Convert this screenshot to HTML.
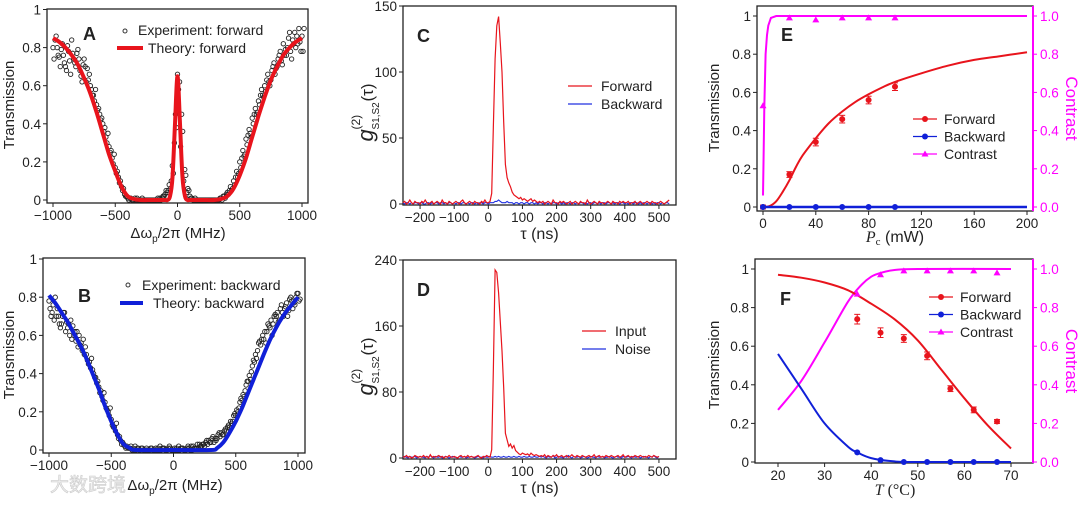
<!DOCTYPE html>
<html><head><meta charset="utf-8">
<style>
html,body{margin:0;padding:0;background:#fff;}
svg{display:block;font-family:"Liberation Sans","Noto Sans CJK SC",sans-serif;}
</style></head>
<body>
<svg id="fig" width="1080" height="506" viewBox="0 0 1080 506" xmlns="http://www.w3.org/2000/svg"></svg>
<script>
// ---------- Panel A data ----------
const thA_x=[-1000,-950,-900,-850,-800,-750,-700,-650,-600,-550,-500,-450,-400,-350,-300,-200,-100,-80,-60,-40,-20,0,20,40,60,80,100,200,300,350,400,450,500,550,600,650,700,750,800,850,900,950,1000];
const thA_y=[0.85,0.83,0.80,0.76,0.71,0.64,0.56,0.46,0.35,0.24,0.15,0.07,0.02,0.005,0,0,0,0,0.02,0.12,0.40,0.65,0.40,0.12,0.02,0,0,0,0,0.005,0.02,0.06,0.13,0.22,0.33,0.44,0.54,0.63,0.70,0.76,0.80,0.83,0.85];
const expA=[0.80,0.86,0.75,0.82,0.70,0.78,0.84,0.72,0.79,0.65,0.74,0.69,0.60,
0.55,0.50,0.45,0.40,0.33,0.28,0.22,0.17,0.12,0.07,0.03,0.01,
0.01,0.0,0.01,0.0,0.0,0.0,0.0,0.0,0.0,0.0,0.01,0.03,
0.05,0.10,0.30,0.66,0.28,0.10,0.04,
0.02,0.0,0.0,0.0,0.0,0.0,0.0,0.0,0.0,0.0,0.01,0.02,
0.04,0.07,0.10,0.15,0.20,0.26,0.32,0.37,0.43,0.48,0.52,0.58,
0.60,0.66,0.63,0.72,0.70,0.78,0.82,0.76,0.88,0.84,0.80,0.90,0.86];
const expA2=[0.74,0.80,0.70,0.76,0.68,0.73,0.77,0.70,0.74,0.62,0.70,0.63,0.58,
0.52,0.47,0.42,0.36,0.30,0.25,0.19,0.14,0.09,0.05,0.02,0.0,
0.0,0.01,0.0,0.0,0.0,0.0,0.0,0.0,0.0,0.01,0.02,0.05,
0.08,0.18,0.45,0.58,0.45,0.16,0.06,
0.01,0.0,0.0,0.0,0.0,0.0,0.0,0.0,0.0,0.0,0.0,0.01,
0.03,0.05,0.08,0.12,0.17,0.23,0.29,0.35,0.40,0.45,0.50,0.55,
0.57,0.62,0.68,0.66,0.74,0.73,0.76,0.80,0.78,0.82,0.86,0.83,0.78];
const expA3=[0.84,0.76,0.79,0.72,0.81,0.66,0.74,0.77,0.68,0.71,0.62,0.66,0.55,
0.58,0.48,0.43,0.38,0.35,0.26,0.24,0.15,0.10,0.06,0.02,0.01,
0.0,0.0,0.0,0.01,0.0,0.0,0.0,0.0,0.01,0.0,0.02,0.04,
0.06,0.14,0.38,0.62,0.36,0.13,0.05,
0.01,0.01,0.0,0.0,0.0,0.0,0.0,0.0,0.0,0.01,0.02,0.03,
0.05,0.06,0.12,0.14,0.22,0.24,0.34,0.33,0.45,0.46,0.55,0.54,
0.63,0.60,0.70,0.69,0.76,0.71,0.79,0.85,0.74,0.88,0.82,0.78,0.90];
const ticksA_x=[-1000,-500,0,500,1000];
const ticksA_y=[0,0.2,0.4,0.6,0.8,1];
// ---------- Panel B data ----------
const thB_x=[-1000,-950,-900,-850,-800,-750,-700,-650,-600,-550,-500,-450,-400,-350,-300,0,300,350,400,450,500,550,600,650,700,750,800,850,900,950,1000];
const thB_y=[0.81,0.77,0.72,0.67,0.61,0.55,0.48,0.40,0.32,0.23,0.15,0.08,0.03,0.01,0,0,0,0.01,0.04,0.09,0.15,0.22,0.30,0.38,0.46,0.54,0.61,0.67,0.72,0.76,0.80];
const expB=[0.78,0.72,0.80,0.70,0.66,0.72,0.64,0.68,0.60,0.62,0.55,0.58,0.50,
0.46,0.42,0.38,0.33,0.28,0.25,0.20,0.16,0.12,0.08,0.05,0.03,
0.02,0.01,0.01,0,0,0.01,0,0,0.01,0,0.01,0,
0.01,0,0.01,0,0.01,0,0.01,
0,0.01,0,0.01,0.01,0.02,0.02,0.03,0.04,0.04,0.06,0.07,
0.08,0.10,0.12,0.15,0.18,0.22,0.26,0.31,0.36,0.41,0.46,0.52,
0.55,0.58,0.62,0.64,0.66,0.70,0.68,0.72,0.75,0.73,0.78,0.76,0.82];
const expB2=[0.74,0.76,0.70,0.66,0.70,0.62,0.66,0.58,0.62,0.54,0.56,0.50,0.47,
0.43,0.40,0.35,0.30,0.26,0.22,0.18,0.13,0.10,0.06,0.03,0.02,
0.01,0.02,0,0.01,0,0,0.01,0,0,0.01,0,0.01,
0,0.01,0,0.01,0,0.01,0,
0.01,0,0.02,0.01,0.03,0.03,0.04,0.05,0.06,0.06,0.08,0.09,
0.10,0.12,0.15,0.18,0.21,0.25,0.29,0.34,0.39,0.44,0.50,0.56,
0.58,0.62,0.66,0.68,0.70,0.72,0.74,0.70,0.77,0.79,0.74,0.80,0.78];
const expB3=[0.70,0.68,0.74,0.64,0.72,0.67,0.60,0.65,0.57,0.60,0.52,0.54,0.45,
0.48,0.38,0.36,0.31,0.30,0.21,0.22,0.12,0.14,0.07,0.04,0.01,
0.01,0,0.02,0.01,0.01,0,0,0.01,0,0,0.02,0.01,
0,0.02,0,0,0.02,0.01,0,
0.02,0.02,0.01,0.03,0.02,0.03,0.05,0.04,0.07,0.05,0.09,0.08,
0.11,0.13,0.14,0.19,0.20,0.27,0.28,0.36,0.37,0.47,0.48,0.57,
0.60,0.56,0.65,0.60,0.71,0.67,0.76,0.74,0.70,0.80,0.77,0.82,0.79];
const ticksB_x=[-1000,-500,0,500,1000];
const ticksB_y=[0,0.2,0.4,0.6,0.8,1];
// ---------- Panel C data (tau from -250 step 5) ----------
const fwdC=[1,2,0,1,3,1,0,2,1,1,0,2,1,3,1,0,1,2,0,1,2,1,0,3,1,1,0,2,1,0,1,2,1,0,2,3,1,0,1,2,1,0,2,1,1,0,2,1,3,1,1,2,
8,60,110,135,142,122,100,62,30,20,16,13,9,7,6,5,4,5,3,4,3,2,3,4,2,3,2,1,2,
1,2,0,1,2,1,0,3,1,1,0,2,1,2,1,0,1,2,0,1,2,1,0,2,1,1,0,3,1,0,1,2,1,0,2,1,1,0,1,2,1,0,2,1,1,0,2,1,2,1,1,2,0,1,1,2,0,1,2,1,0,1,2,1,0,2,1,1,0,1,2,1,0,1,2,3];
const bwdC=[1,0,1,1,0,1,0,1,1,0,1,1,0,0,1,1,0,1,0,1,1,0,1,1,0,1,0,1,1,0,1,0,1,1,0,1,1,0,1,0,1,1,0,1,0,1,1,0,1,1,0,1,
1,1,2,2,3,2,1,1,1,2,1,1,1,0,1,1,0,1,1,0,1,1,0,1,1,0,1,0,1,
1,0,1,1,0,1,0,1,1,0,1,1,0,1,0,1,1,0,1,1,0,1,0,1,1,0,1,0,1,1,0,1,1,0,1,0,1,1,0,1,1,0,1,0,1,1,0,1,1,0,1,0,1,1,0,1,1,0,1,0,1,1,0,1,1,0,1,0,1,1,0,1,0,1,1,0,1,0,1,1];
const ticksC_x=[-200,-100,0,100,200,300,400,500];
const ticksC_y=[0,50,100,150];
// ---------- Panel D data ----------
const fwdD=[2,1,3,1,2,0,1,3,2,1,2,1,3,1,2,0,4,1,2,1,2,3,1,2,0,2,1,3,1,1,2,1,0,2,3,1,2,1,3,1,2,1,1,2,3,1,0,2,1,3,2,1,
10,110,228,225,200,165,130,85,30,22,14,17,12,15,9,7,5,4,6,5,4,5,3,6,4,3,4,3,2,
3,2,4,1,3,2,1,3,2,4,1,2,3,1,2,3,1,2,4,2,1,3,2,1,3,2,1,2,3,1,2,4,1,2,3,1,2,1,3,2,1,3,2,1,2,3,1,2,4,1,2,3,1,2,1,3,2,1,3,2,1,2,1,3,2,1,3,2,1,2];
const bwdD=[1,2,1,0,2,1,1,2,0,1,2,1,1,0,2,1,3,1,0,2,1,1,2,0,1,2,1,0,1,2,1,1,0,2,1,1,2,0,1,1,2,1,0,1,2,1,1,0,2,1,1,2,
1,1,2,1,2,1,1,2,1,1,2,1,1,2,1,1,2,1,1,2,1,1,2,1,1,2,1,1,2,
1,2,1,0,2,1,1,3,0,1,2,1,1,0,2,1,3,1,0,2,1,1,2,0,1,2,1,0,1,2,1,1,0,2,1,1,2,0,1,1,2,1,0,1,2,1,1,0,2,1,1,2,1,0,2,1,1,2,0,1,2,1,1,0,2,1,3,1,0,2,1,1,2,0,1,2,1,0,1,2];
const ticksD_x=[-200,-100,0,100,200,300,400,500];
const ticksD_y=[0,80,160,240];
// ---------- Panel E data ----------
const thE_x=[0,5,10,15,20,25,30,40,50,60,70,80,90,100,120,140,160,180,200];
const thE_fwd=[0,0.005,0.03,0.08,0.14,0.21,0.27,0.36,0.44,0.50,0.55,0.59,0.625,0.655,0.70,0.74,0.77,0.79,0.81];
const ptE_x=[0,20,40,60,80,100];
const ptE_fwd=[0,0.17,0.34,0.46,0.56,0.63];
const ptE_err=[0.01,0.015,0.02,0.02,0.02,0.02];
const ptE_bwd=[0,0,0,0,0,0];
const ptE_con=[0.53,0.99,0.98,0.99,0.99,0.99];
const conE_x=[0,0.5,1,2,3,4,6,10,200];
const conE_y=[0.06,0.3,0.52,0.8,0.9,0.95,0.99,1,1];
const ticksE_x=[0,40,80,120,160,200];
const ticksE_y=[0,0.2,0.4,0.6,0.8,1];
const ticksE_r=["0.0","0.2","0.4","0.6","0.8","1.0"];
// ---------- Panel F data ----------
const thF_x=[20,25,30,35,40,45,50,55,60,65,70];
const thF_fwd=[0.97,0.955,0.93,0.89,0.82,0.74,0.63,0.48,0.33,0.19,0.07];
const thFb_x=[20,25,30,35,37,40,45,50,70];
const thFb_y=[0.56,0.38,0.20,0.08,0.05,0.02,0.003,0,0];
const conF_x=[20,25,30,35,38,40,42,45,50,70];
const conF_y=[0.27,0.42,0.62,0.83,0.92,0.96,0.98,0.995,1,1];
const ptF_x=[37,42,47,52,57,62,67];
const ptF_fwd=[0.74,0.67,0.64,0.55,0.38,0.27,0.21];
const ptF_err=[0.025,0.025,0.02,0.02,0.015,0.015,0.01];
const ptF_bwd=[0.05,0.01,0,0,0,0,0];
const ptF_con=[0.87,0.97,0.99,0.99,0.99,0.99,0.98];
const ticksF_x=[20,30,40,50,60,70];
const ticksF_y=[0,0.2,0.4,0.6,0.8,1];
const ticksF_r=["0.0","0.2","0.4","0.6","0.8","1.0"];

const NS="http://www.w3.org/2000/svg";
const svg=document.getElementById('fig');
function el(tag,attrs,parent,txt){const e=document.createElementNS(NS,tag);for(const k in attrs)e.setAttribute(k,attrs[k]);if(txt!==undefined)e.textContent=txt;(parent||svg).appendChild(e);return e;}
function scale(d0,d1,p0,p1){return v=>p0+(v-d0)*(p1-p0)/(d1-d0);}
function fmt(v){return String(v).replace('-','\u2212');}
function smoothD(xs,ys,sx,sy){
 const P=xs.map((x,i)=>[sx(x),sy(ys[i])]);
 let d='M'+P[0][0].toFixed(1)+','+P[0][1].toFixed(1);
 for(let i=0;i<P.length-1;i++){const p0=P[Math.max(0,i-1)],p1=P[i],p2=P[i+1],p3=P[Math.min(P.length-1,i+2)];
  const c1=[p1[0]+(p2[0]-p0[0])/6,p1[1]+(p2[1]-p0[1])/6],c2=[p2[0]-(p3[0]-p1[0])/6,p2[1]-(p3[1]-p1[1])/6];
  d+='C'+c1.map(v=>v.toFixed(1)).join(',')+' '+c2.map(v=>v.toFixed(1)).join(',')+' '+p2[0].toFixed(1)+','+p2[1].toFixed(1);}
 return d;}
function pathD(xs,ys,sx,sy){return xs.map((x,i)=>(i?'L':'M')+sx(x).toFixed(1)+','+sy(ys[i]).toFixed(1)).join('');}

function frame(g,box,sx,sy,xt,yt){
  const r=el('rect',{x:box.l,y:box.t,width:box.r-box.l,height:box.b-box.t,fill:'none',stroke:'#222','stroke-width':1.3},g);
  
  
  xt.forEach(v=>{const x=sx(v);
    el('line',{x1:x,x2:x,y1:box.b,y2:box.b+4,stroke:'#222','stroke-width':1},g);
    const t=el('text',{x:x,y:box.b+17,'text-anchor':'middle','font-size':13.5,fill:'#222'},g,fmt(v));
    
    });
  yt.forEach(v=>{const y=sy(v);
    el('line',{x1:box.l-4,x2:box.l,y1:y,y2:y,stroke:'#222','stroke-width':1},g);
    const t=el('text',{x:box.l-6,y:y+5,'text-anchor':'end','font-size':13.5,fill:'#222'},g,fmt(v));
    
    });
}
function group(name){const g=el('g',{});return g;}
function label(g,txt,x,y,name,extra){const t=el('text',Object.assign({x:x,y:y,'font-size':13,fill:'#222'},extra||{}),g,txt);return t;}
function scatter(g,arrs,sx,sy){
 arrs.forEach((arr,k)=>arr.forEach((v,i)=>{const c=el('circle',{cx:sx(-1000+i*25+k*8.33),cy:sy(v),r:2.2,fill:'none',stroke:'#222','stroke-width':0.9},g);
  }));
}

// ===== Panel A =====
(function(){
 const g=group('panel-a');
 const box={l:47,r:308,t:9,b:203};
 const sx=scale(-1000,1000,53,302), sy=scale(0,1,200,9.5);
 frame(g,box,sx,sy,ticksA_x,ticksA_y);
 scatter(g,[expA,expA2,expA3],sx,sy);
 const p=el('path',{d:smoothD(thA_x,thA_y,sx,sy),fill:'none',stroke:'#e8141c','stroke-width':4,'stroke-linejoin':'round'},g);
 
 label(g,'A',83,40,'panel-label',{'font-size':18,'font-weight':'bold'});
 el('circle',{cx:125,cy:31,r:2,fill:'none',stroke:'#333'},g);
 label(g,'Experiment: forward',138,35,'legend-experiment',{'font-size':14});
 el('line',{x1:117,x2:143,y1:48,y2:48,stroke:'#e8141c','stroke-width':4},g);
 label(g,'Theory: forward',148,53,'legend-theory',{'font-size':14});
 label(g,'Transmission',0,0,'y-axis-title',{transform:'translate(14,105) rotate(-90)','text-anchor':'middle','font-size':15});
 const xt=el('text',{x:178,y:238,'text-anchor':'middle','font-size':15,fill:'#222'},g);
 
 xt.innerHTML='Δω<tspan font-size="10" dy="4">p</tspan><tspan dy="-4">/2π (MHz)</tspan>';
})();
// ===== Panel B =====
(function(){
 const g=group('panel-b');
 const box={l:43,r:305,t:258,b:453};
 const sx=scale(-1000,1000,49,298), sy=scale(0,1,450,259);
 frame(g,box,sx,sy,ticksB_x,ticksB_y);
 scatter(g,[expB,expB2,expB3],sx,sy);
 const p=el('path',{d:smoothD(thB_x,thB_y,sx,sy),fill:'none',stroke:'#1020d8','stroke-width':4,'stroke-linejoin':'round'},g);
 
 label(g,'B',78,302,'panel-label',{'font-size':18,'font-weight':'bold'});
 el('circle',{cx:128,cy:285,r:2,fill:'none',stroke:'#333'},g);
 label(g,'Experiment: backward',142,290,'legend-experiment',{'font-size':14});
 el('line',{x1:120,x2:143,y1:303,y2:303,stroke:'#1020d8','stroke-width':4},g);
 label(g,'Theory: backward',153,308,'legend-theory',{'font-size':14});
 label(g,'Transmission',0,0,'y-axis-title',{transform:'translate(14,355) rotate(-90)','text-anchor':'middle','font-size':15});
 const xt=el('text',{x:175,y:490,'text-anchor':'middle','font-size':15,fill:'#222'},g);
 
 xt.innerHTML='Δω<tspan font-size="10" dy="4">p</tspan><tspan dy="-4">/2π (MHz)</tspan>';
 label(g,'大数跨境',50,491,'watermark',{'font-size':19,fill:'#eee',stroke:'#ccc','stroke-width':0.6});
})();
// ===== Panels C & D =====
function gPanel(name,box,ymax,yt,xt,fwd,bwd,lab,leg1,leg2,legPos){
 const g=group(name);
 const sx=scale(-250,550,box.l,box.r), sy=scale(0,ymax,box.b-1,box.t);
 frame(g,box,sx,sy,xt,yt);
 const xs=fwd.map((_,i)=>-250+i*5);
 const pb=el('path',{d:pathD(xs,bwd,sx,sy),fill:'none',stroke:'#2030e0','stroke-width':1.1},g);
 
 const pf=el('path',{d:pathD(xs,fwd,sx,sy),fill:'none',stroke:'#e8141c','stroke-width':1.2},g);
 
 label(g,lab,box.l+14,box.t+36,'panel-label',{'font-size':18,'font-weight':'bold'});
 el('line',{x1:legPos.x,x2:legPos.x+24,y1:legPos.y,y2:legPos.y,stroke:'#e8141c','stroke-width':1.3},g);
 label(g,leg1,legPos.x+33,legPos.y+5,'legend-'+leg1.toLowerCase(),{'font-size':14});
 el('line',{x1:legPos.x,x2:legPos.x+24,y1:legPos.y+18,y2:legPos.y+18,stroke:'#2030e0','stroke-width':1.3},g);
 label(g,leg2,legPos.x+33,legPos.y+23,'legend-'+leg2.toLowerCase(),{'font-size':14});
 const yc=(box.t+box.b)/2;
 const tg=el('g',{transform:'translate('+(box.l-30)+','+yc+') rotate(-90)'},g);
 
 el('text',{x:-36,y:0,'font-size':22,'font-style':'italic',fill:'#222'},tg,'g');
 el('text',{x:-24,y:-13,'font-size':12,fill:'#222'},tg,'(2)');
 el('text',{x:-24,y:6,'font-size':10,fill:'#222'},tg,'S1,S2');
 el('text',{x:4,y:0,'font-size':17,fill:'#222'},tg,'(τ)');
 label(g,'τ (ns)',(box.l+box.r)/2,box.b+34,'x-axis-title',{'text-anchor':'middle','font-size':16});
}
gPanel('panel-c',{l:403,r:676,t:6,b:205},150,ticksC_y,ticksC_x,fwdC,bwdC,'C','Forward','Backward',{x:568,y:86});
gPanel('panel-d',{l:403,r:676,t:260,b:459},240,ticksD_y,ticksD_x,fwdD,bwdD,'D','Input','Noise',{x:582,y:331});

// ===== Panels E & F =====
function errPts(g,xs,ys,errs,sx,sy,color,name){
 xs.forEach((x,i)=>{const cx=sx(x),cy=sy(ys[i]);
  if(errs){const e=errs[i];el('line',{x1:cx,x2:cx,y1:sy(ys[i]+e),y2:sy(ys[i]-e),stroke:color,'stroke-width':1},g);
   el('line',{x1:cx-3,x2:cx+3,y1:sy(ys[i]+e),y2:sy(ys[i]+e),stroke:color},g);
   el('line',{x1:cx-3,x2:cx+3,y1:sy(ys[i]-e),y2:sy(ys[i]-e),stroke:color},g);}
  const c=el('circle',{cx:cx,cy:cy,r:3,fill:color},g);
  });
}
function triPts(g,xs,ys,sx,sy,color){
 xs.forEach((x,i)=>{const cx=sx(x),cy=sy(ys[i]);
  const t=el('path',{d:`M${cx},${cy-3.5}L${cx+3.5},${cy+2.5}L${cx-3.5},${cy+2.5}Z`,fill:color},g);
  });
}
function rightAxis(g,box,sy,ticks,labels,title){
 el('line',{x1:box.r,x2:box.r,y1:box.t,y2:box.b,stroke:'#ff00ff','stroke-width':2},g);
 ticks.forEach((v,i)=>{const y=sy(v);
  el('line',{x1:box.r,x2:box.r+4,y1:y,y2:y,stroke:'#ff00ff'},g);
  const t=el('text',{x:box.r+7,y:y+5,'font-size':13.5,fill:'#ff00ff'},g,labels[i]);
  });
 label(g,title,0,0,'right-axis-title',{transform:`translate(${box.r+33},${(box.t+box.b)/2}) rotate(90)`,'text-anchor':'middle','font-size':17,fill:'#ff00ff'});
}
function legendEF(g,x,y){
 [['Forward','#e8141c','c'],['Backward','#1020d8','c'],['Contrast','#ff00ff','t']].forEach((L,i)=>{
  const yy=y+i*17.5;
  el('line',{x1:x,x2:x+24,y1:yy,y2:yy,stroke:L[1],'stroke-width':1.3},g);
  if(L[2]=='c')el('circle',{cx:x+12,cy:yy,r:3,fill:L[1]},g);
  else el('path',{d:`M${x+12},${yy-3.5}L${x+15.5},${yy+2.5}L${x+8.5},${yy+2.5}Z`,fill:L[1]},g);
  label(g,L[0],x+31,yy+5,'legend-'+L[0].toLowerCase(),{'font-size':14});});
}
(function(){
 const g=group('panel-e');
 const box={l:757,r:1033,t:6,b:211};
 const sx=scale(0,200,763,1027), sy=scale(0,1,207,16);
 frame(g,box,sx,sy,ticksE_x,ticksE_y);
 rightAxis(g,box,sy,ticksE_y,ticksE_r,'Contrast');
 let p=el('path',{d:pathD(conE_x,conE_y,sx,sy),fill:'none',stroke:'#ff00ff','stroke-width':2},g);
 
 p=el('path',{d:smoothD(thE_x,thE_fwd,sx,sy),fill:'none',stroke:'#e8141c','stroke-width':2},g);
 
 p=el('path',{d:pathD([0,200],[0,0],sx,sy),fill:'none',stroke:'#1020d8','stroke-width':2.5},g);
 
 errPts(g,ptE_x,ptE_fwd,ptE_err,sx,sy,'#e8141c','forward-point');
 errPts(g,ptE_x,ptE_bwd,null,sx,sy,'#1020d8','backward-point');
 triPts(g,ptE_x,ptE_con,sx,sy,'#ff00ff');
 label(g,'E',781,41,'panel-label',{'font-size':18,'font-weight':'bold'});
 legendEF(g,913,119);
 label(g,'Transmission',0,0,'y-axis-title',{transform:'translate(719,108) rotate(-90)','text-anchor':'middle','font-size':15});
 const xt=el('text',{x:895,y:242,'text-anchor':'middle','font-size':16,fill:'#222'},g);
 
 xt.innerHTML='<tspan font-family="Liberation Serif" font-style="italic">P</tspan><tspan font-family="Liberation Serif" font-size="11" dy="3">c</tspan><tspan dy="-3"> (mW)</tspan>';
})();
(function(){
 const g=group('panel-f');
 const box={l:755,r:1033,t:259,b:463};
 const sx=scale(20,70,778,1011), sy=scale(0,1,462,269);
 frame(g,box,sx,sy,ticksF_x,ticksF_y);
 rightAxis(g,box,sy,ticksF_y,ticksF_r,'Contrast');
 let p=el('path',{d:smoothD(conF_x,conF_y,sx,sy),fill:'none',stroke:'#ff00ff','stroke-width':2},g);
 
 p=el('path',{d:smoothD(thF_x,thF_fwd,sx,sy),fill:'none',stroke:'#e8141c','stroke-width':2},g);
 
 p=el('path',{d:smoothD(thFb_x,thFb_y,sx,sy),fill:'none',stroke:'#1020d8','stroke-width':2},g);
 
 errPts(g,ptF_x,ptF_fwd,ptF_err,sx,sy,'#e8141c','forward-point');
 errPts(g,ptF_x,ptF_bwd,null,sx,sy,'#1020d8','backward-point');
 triPts(g,ptF_x,ptF_con,sx,sy,'#ff00ff');
 label(g,'F',780,305,'panel-label',{'font-size':18,'font-weight':'bold'});
 legendEF(g,929,297);
 label(g,'Transmission',0,0,'y-axis-title',{transform:'translate(719,365) rotate(-90)','text-anchor':'middle','font-size':15});
 const xt=el('text',{x:895,y:495,'text-anchor':'middle','font-size':16,fill:'#222'},g);
 
 xt.innerHTML='<tspan font-family="Liberation Serif" font-style="italic">T</tspan><tspan font-family="Liberation Serif"> (°C)</tspan>';
})();
</script>
</body></html>
